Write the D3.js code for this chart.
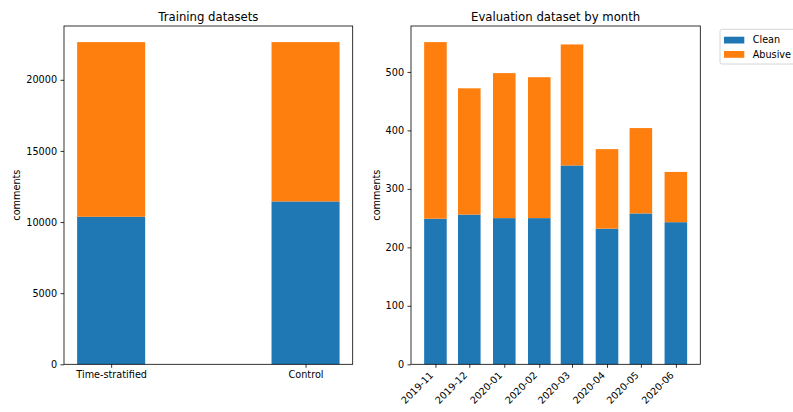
<!DOCTYPE html>
<html>
<head>
<meta charset="utf-8">
<script src="https://cdn.jsdelivr.net/npm/d3@7"></script>
<style>
  body { margin: 0; background: white; }
  text { font-family: "DejaVu Sans", sans-serif; fill: #000; }
</style>
</head>
<body>
<svg id="chart"></svg>
<script>
// training datasets
var trainNames = ["Time-stratified", "Control"];
var trainClean = [10370, 11450];
var trainAbusive = [12280, 11200];
var trainTicks = [0, 5000, 10000, 15000, 20000];

// evaluation by month
var months = ["2019-11", "2019-12", "2020-01", "2020-02", "2020-03", "2020-04", "2020-05", "2020-06"];
var evalClean = [249, 256, 250, 250, 340, 232, 258, 243];
var evalAbusive = [302, 216, 248, 241, 207, 136, 146, 86];
var evalTicks = [0, 100, 200, 300, 400, 500];

var seriesNames = ["Clean", "Abusive"];
var colors = ["#1f77b4", "#ff7f0e"];

var width = 793, height = 412;
var plotTop = 26, plotBottom = 364.3;
var fs = 9.7;

var svg = d3.select("#chart")
  .attr("width", width)
  .attr("height", height);

//left panel
var left = svg.append("g");

var xL = d3.scaleLinear()
  .domain([-0.2425, 1.2425])
  .range([64, 352.7]);

var totalsL = trainClean.map(function(c, i) { return c + trainAbusive[i]; });
var yL = d3.scaleLinear()
  .domain([0, d3.max(totalsL) * 1.05])
  .range([plotBottom, plotTop]);

var bw = 0.35;

trainNames.forEach(function(d, i) {
  left.append("rect")
    .attr("x", xL(i - bw / 2))
    .attr("y", yL(trainClean[i]))
    .attr("width", xL(i + bw / 2) - xL(i - bw / 2))
    .attr("height", yL(0) - yL(trainClean[i]))
    .attr("fill", colors[0]);

  left.append("rect")
    .attr("x", xL(i - bw / 2))
    .attr("y", yL(totalsL[i]))
    .attr("width", xL(i + bw / 2) - xL(i - bw / 2))
    .attr("height", yL(trainClean[i]) - yL(totalsL[i]))
    .attr("fill", colors[1]);
});

left.append("g")
  .attr("transform", "translate(64,0)")
  .call(d3.axisLeft(yL).tickValues(trainTicks).tickSize(3.5).tickPadding(3.4).tickFormat(d3.format("d")));

left.append("g")
  .attr("transform", "translate(0," + plotBottom + ")")
  .call(d3.axisBottom(xL).tickValues([0, 1]).tickSize(3.5).tickPadding(3.4)
    .tickFormat(function(d) { return trainNames[d]; }));

left.append("rect")
  .attr("x", 64).attr("y", plotTop)
  .attr("width", 352.7 - 64).attr("height", plotBottom - plotTop)
  .attr("fill", "none").attr("stroke", "#000").attr("stroke-width", 0.8);

left.append("text")
  .text("Training datasets")
  .attr("x", (64 + 352.7) / 2)
  .attr("y", 20.8)
  .attr("text-anchor", "middle")
  .attr("font-size", "11.7px");

left.append("text")
  .text("comments")
  .attr("transform", "translate(19.5," + (plotTop + plotBottom) / 2 + ") rotate(-90)")
  .attr("text-anchor", "middle")
  .attr("font-size", fs + "px");

//right panel
var right = svg.append("g");

var dates = months.map(function(m) {
  var p = m.split("-");
  return new Date(+p[0], +p[1] - 1, 1);
});
var half = 10; // bar half width in days
var lo = d3.timeDay.offset(dates[0], -half);
var hi = d3.timeDay.offset(dates[dates.length - 1], half);
var pad = (hi - lo) * 0.05;

var xR = d3.scaleTime()
  .domain([new Date(+lo - pad), new Date(+hi + pad)])
  .range([411, 700.3]);

var totalsR = evalClean.map(function(c, i) { return c + evalAbusive[i]; });
var yR = d3.scaleLinear()
  .domain([0, d3.max(totalsR) * 1.05])
  .range([plotBottom, plotTop]);

dates.forEach(function(d, i) {
  var x0 = xR(d3.timeDay.offset(d, -half));
  var x1 = xR(d3.timeDay.offset(d, half));

  right.append("rect")
    .attr("x", x0)
    .attr("y", yR(evalClean[i]))
    .attr("width", x1 - x0)
    .attr("height", yR(0) - yR(evalClean[i]))
    .attr("fill", colors[0]);

  right.append("rect")
    .attr("x", x0)
    .attr("y", yR(totalsR[i]))
    .attr("width", x1 - x0)
    .attr("height", yR(evalClean[i]) - yR(totalsR[i]))
    .attr("fill", colors[1]);
});

right.append("g")
  .attr("transform", "translate(411,0)")
  .call(d3.axisLeft(yR).tickValues(evalTicks).tickSize(3.5).tickPadding(3.4).tickFormat(d3.format("d")));

right.append("g")
  .attr("transform", "translate(0," + plotBottom + ")")
  .call(d3.axisBottom(xR).tickValues(dates).tickSize(3.5).tickFormat(""));

dates.forEach(function(d, i) {
  right.append("text")
    .text(months[i])
    .attr("transform", "translate(" + (xR(d) - 1.5) + "," + (plotBottom + 11.5) + ") rotate(-45)")
    .attr("text-anchor", "end")
    .attr("font-size", fs + "px");
});

right.append("rect")
  .attr("x", 411).attr("y", plotTop)
  .attr("width", 700.3 - 411).attr("height", plotBottom - plotTop)
  .attr("fill", "none").attr("stroke", "#000").attr("stroke-width", 0.8);

right.append("text")
  .text("Evaluation dataset by month")
  .attr("x", (411 + 700.3) / 2)
  .attr("y", 20.8)
  .attr("text-anchor", "middle")
  .attr("font-size", "11.7px");

right.append("text")
  .text("comments")
  .attr("transform", "translate(379.5," + (plotTop + plotBottom) / 2 + ") rotate(-90)")
  .attr("text-anchor", "middle")
  .attr("font-size", fs + "px");

//legend
var legend = svg.append("g");

legend.append("rect")
  .attr("x", 720)
  .attr("y", 29.3)
  .attr("width", 82)
  .attr("height", 34.7)
  .attr("rx", 2)
  .attr("fill", "white")
  .attr("stroke", "#ccc")
  .attr("stroke-width", 0.8);

seriesNames.forEach(function(s, i) {
  legend.append("rect")
    .attr("x", 724)
    .attr("y", 36.7 + i * 14.3)
    .attr("width", 20.3)
    .attr("height", 6.8)
    .attr("fill", colors[i]);

  legend.append("text")
    .text(s)
    .attr("x", 752.7)
    .attr("y", 40.1 + i * 14.3)
    .attr("dy", ".35em")
    .attr("font-size", fs + "px");
});

// axis styling
svg.selectAll(".domain").remove();
svg.selectAll(".tick line").attr("stroke", "#000").attr("stroke-width", 0.8);
svg.selectAll(".tick text").attr("font-size", fs + "px").attr("font-family", "DejaVu Sans");
</script>
</body>
</html>
